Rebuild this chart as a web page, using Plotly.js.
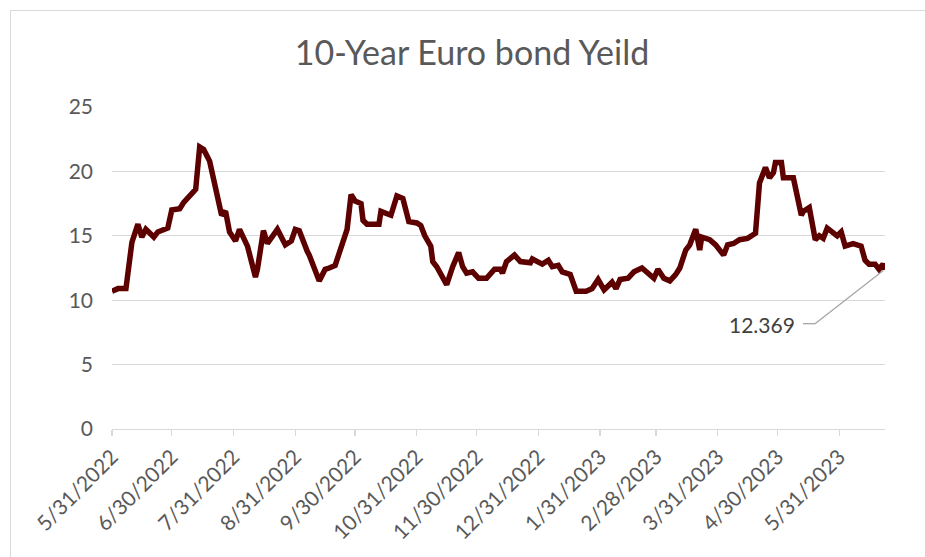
<!DOCTYPE html>
<html>
<head>
<meta charset="utf-8">
<script src="https://cdn.plot.ly/plotly-3.0.1.min.js"></script>
<style>
  html, body { margin: 0; padding: 0; background: #ffffff; }
  #wrap { position: relative; width: 925px; height: 557px; overflow: hidden; }
  #frame { position: absolute; left: 10px; top: 10px; width: 1000px; height: 700px;
           border-left: 1px solid #d9d9d9; border-top: 1px solid #d9d9d9; }
  #chart { position: absolute; left: 0; top: 0; width: 925px; height: 557px; }
</style>
</head>
<body>
<div id="wrap">
  <div id="frame"></div>
  <div id="chart"></div>
</div>
<script>
const chartTitle = "10-Year Euro bond Yeild";

const dates = [
  "2022-05-31","2022-06-03","2022-06-07","2022-06-08","2022-06-10","2022-06-13","2022-06-15","2022-06-17",
  "2022-06-21","2022-06-23","2022-06-28","2022-06-30","2022-07-04","2022-07-06","2022-07-12","2022-07-14",
  "2022-07-16","2022-07-19","2022-07-22","2022-07-25","2022-07-27","2022-07-29","2022-08-01","2022-08-03",
  "2022-08-07","2022-08-11","2022-08-12","2022-08-15","2022-08-17","2022-08-22","2022-08-26","2022-08-29",
  "2022-08-31","2022-09-02","2022-09-06","2022-09-07","2022-09-12","2022-09-15","2022-09-17","2022-09-20",
  "2022-09-26","2022-09-28","2022-09-30","2022-10-03","2022-10-04","2022-10-06","2022-10-12","2022-10-13",
  "2022-10-18","2022-10-21","2022-10-24","2022-10-27","2022-10-31","2022-11-02","2022-11-04","2022-11-07",
  "2022-11-08","2022-11-10","2022-11-15","2022-11-17","2022-11-18","2022-11-21","2022-11-23","2022-11-25",
  "2022-11-28","2022-12-01","2022-12-05","2022-12-09","2022-12-12","2022-12-13","2022-12-15","2022-12-19",
  "2022-12-22","2022-12-27","2022-12-28","2023-01-02","2023-01-05","2023-01-07","2023-01-10","2023-01-12",
  "2023-01-16","2023-01-19","2023-01-24","2023-01-27","2023-01-30","2023-02-02","2023-02-06","2023-02-08",
  "2023-02-10","2023-02-14","2023-02-17","2023-02-21","2023-02-23","2023-02-27","2023-03-01","2023-03-04",
  "2023-03-07","2023-03-10","2023-03-12","2023-03-15","2023-03-17","2023-03-20","2023-03-22","2023-03-23",
  "2023-03-27","2023-03-30","2023-04-03","2023-04-05","2023-04-08","2023-04-11","2023-04-15","2023-04-19",
  "2023-04-21","2023-04-24","2023-04-26","2023-04-28","2023-04-29","2023-05-02","2023-05-03","2023-05-08",
  "2023-05-12","2023-05-13","2023-05-16","2023-05-19","2023-05-21","2023-05-23","2023-05-25","2023-05-30",
  "2023-06-01","2023-06-03","2023-06-07","2023-06-09","2023-06-11","2023-06-13","2023-06-15","2023-06-18",
  "2023-06-20","2023-06-22","2023-06-23"
];

const yields = [
  10.7,10.9,10.9,12.2,14.5,15.9,14.9,15.5,
  14.9,15.3,15.6,17.0,17.1,17.6,18.6,21.9,
  21.7,20.8,18.6,16.6,16.9,15.3,14.6,15.5,
  14.2,11.8,12.4,15.4,14.4,15.5,14.3,14.6,
  15.5,15.4,13.8,13.5,11.5,12.4,12.5,12.7,
  15.5,18.2,17.7,17.5,16.2,15.9,15.9,16.9,
  16.6,18.1,17.9,16.1,16.0,15.8,15.0,14.2,
  13.0,12.6,11.2,12.4,12.6,13.7,12.6,12.1,
  12.2,11.7,11.7,12.4,12.4,12.1,13.0,13.5,
  13.0,12.9,13.2,12.8,13.1,12.6,12.7,12.2,
  12.0,10.7,10.7,10.9,11.6,10.8,11.4,10.9,
  11.6,11.7,12.2,12.5,12.2,11.7,12.4,11.7,
  11.5,12.0,12.5,13.9,14.3,15.5,13.9,14.9,
  14.7,14.3,13.5,14.3,14.4,14.7,14.8,15.2,
  19.1,20.3,19.5,19.9,20.7,20.7,19.5,19.5,
  16.6,16.9,17.2,14.7,15.0,14.8,15.6,15.0,
  15.3,14.2,14.4,14.3,14.2,13.1,12.8,12.8,
  12.4,12.8,12.369
];

const tickDates = ["2022-05-31","2022-06-30","2022-07-31","2022-08-31","2022-09-30","2022-10-31",
  "2022-11-30","2022-12-31","2023-01-31","2023-02-28","2023-03-31","2023-04-30","2023-05-31"];
const tickLabels = ["5/31/2022","6/30/2022","7/31/2022","8/31/2022","9/30/2022","10/31/2022",
  "11/30/2022","12/31/2022","1/31/2023","2/28/2023","3/31/2023","4/30/2023","5/31/2023"];
const xRange = ["2022-05-31","2023-06-23"];
const yTicks = [0,5,10,15,20,25];

const lastDate = dates[dates.length - 1];
const lastVal = yields[yields.length - 1];

const FONT = "Lato, 'Open Sans', sans-serif";

const trace = {
  x: dates, y: yields, type: "scatter", mode: "lines",
  line: { color: "#5c0000", width: 5.5 },
  hoverinfo: "skip"
};

const layout = {
  width: 925, height: 557,
  margin: { l: 112, r: 40, t: 107, b: 128 },
  paper_bgcolor: "rgba(0,0,0,0)",
  plot_bgcolor: "rgba(0,0,0,0)",
  showlegend: false,
  font: { family: FONT, color: "#595959" },
  title: {
    text: chartTitle,
    font: { family: FONT, size: 34, color: "#595959" },
    xref: "container", x: 472 / 925, xanchor: "center",
    yref: "container", y: 1 - 53 / 557, yanchor: "middle"
  },
  xaxis: {
    type: "date",
    range: xRange,
    tickmode: "array",
    tickvals: tickDates,
    ticktext: tickLabels,
    tickangle: -45,
    tickfont: { family: FONT, size: 21, color: "#595959" },
    showgrid: false,
    zeroline: false,
    showline: true,
    linecolor: "#d9d9d9",
    linewidth: 1.3,
    ticks: "outside",
    ticklen: 6,
    tickcolor: "#d9d9d9",
    tickwidth: 1.3,
    fixedrange: true
  },
  yaxis: {
    range: [0, 25],
    tickmode: "array",
    tickvals: yTicks,
    ticktext: yTicks.map(String),
    tickfont: { family: FONT, size: 21, color: "#595959" },
    showgrid: true,
    gridcolor: "#d9d9d9",
    gridwidth: 1.3,
    zeroline: false,
    showline: false,
    ticks: "",
    ticklabelstandoff: 18,
    fixedrange: true
  },
  annotations: [{
    x: lastDate, y: lastVal, xref: "x", yref: "y",
    text: String(lastVal),
    showarrow: false,
    xanchor: "right", yanchor: "middle",
    xshift: -88, yshift: -55,
    font: { family: FONT, size: 21, color: "#404040" }
  }],
  shapes: [
    { type: "line", xref: "x", yref: "y",
      xsizemode: "pixel", xanchor: lastDate, x0: -82, x1: -70,
      ysizemode: "pixel", yanchor: lastVal, y0: -54, y1: -54,
      line: { color: "#a6a6a6", width: 1.3 } },
    { type: "line", xref: "x", yref: "y",
      xsizemode: "pixel", xanchor: lastDate, x0: -70, x1: -2,
      ysizemode: "pixel", yanchor: lastVal, y0: -54, y1: -1,
      line: { color: "#a6a6a6", width: 1.3 } }
  ]
};

Plotly.newPlot("chart", [trace], layout, { displayModeBar: false, staticPlot: true });
</script>
</body>
</html>
